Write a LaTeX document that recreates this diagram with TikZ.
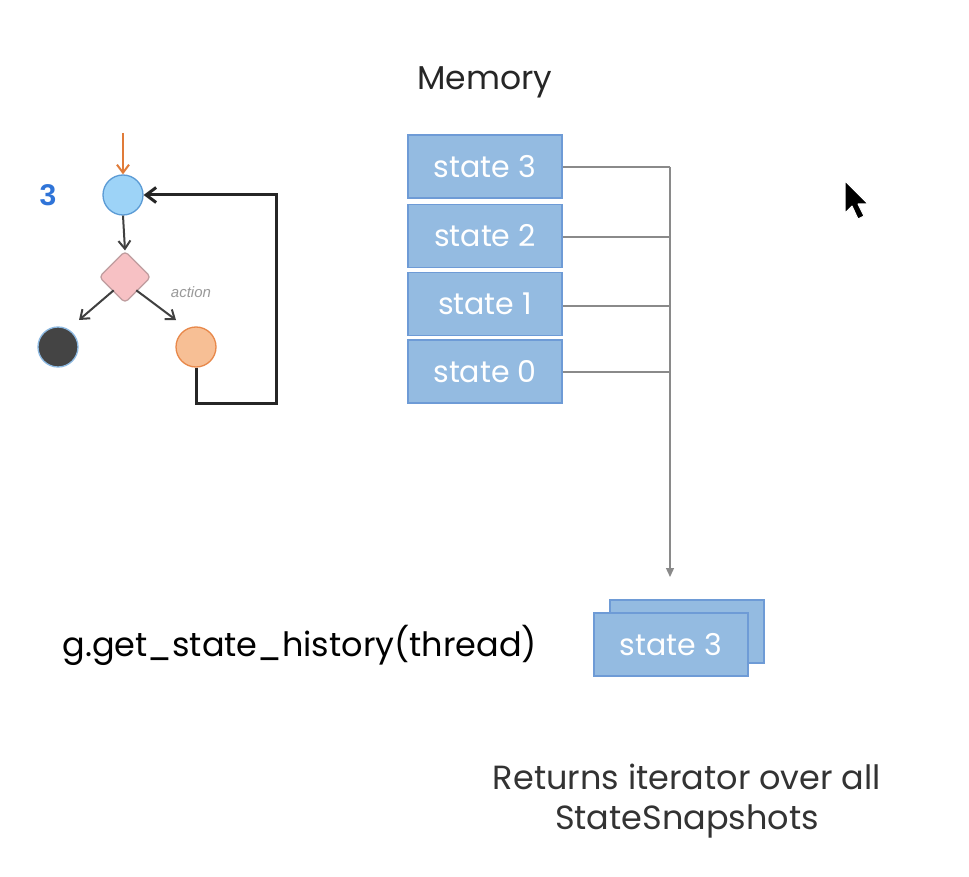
\documentclass[tikz,border=0pt]{standalone}
\usepackage{fontspec}
\setmainfont{Poppins}
\newfontfamily\arialfont{Liberation Sans}
\usetikzlibrary{shapes.geometric,arrows.meta}
\definecolor{boxfill}{HTML}{94BBE1}
\definecolor{boxdraw}{HTML}{6E9BD6}
\definecolor{linkgray}{HTML}{8A8A8A}
\definecolor{nodeblue}{HTML}{9DD3F7}
\definecolor{nodeblueline}{HTML}{5B9BD5}
\definecolor{diafill}{HTML}{F7C1C4}
\definecolor{diadraw}{HTML}{BE9C9E}
\definecolor{orfill}{HTML}{F7BF95}
\definecolor{ordraw}{HTML}{E8884A}
\definecolor{orarrow}{HTML}{E07B39}
\definecolor{numblue}{HTML}{2F74D8}
\definecolor{darkfill}{HTML}{444444}
\tikzset{
  statebox/.style={draw=boxdraw, fill=boxfill, line width=1.2pt, minimum width=154pt, minimum height=63pt, inner sep=0pt, text=white, font=\fontsize{30}{34}\selectfont},
  link/.style={draw=linkgray, line width=1.3pt},
  gnode/.style={circle, minimum size=40pt, inner sep=0pt, line width=1.3pt},
  garrow/.style={draw=black!75, line width=2pt, -{Straight Barb[length=8pt,width=12pt]}},
}
\begin{document}
\begin{tikzpicture}[x=1pt,y=-1pt]
\useasboundingbox (0,0) rectangle (969,877);
\fill[white] (0,0) rectangle (969,877);

% Memory
\node[font=\fontsize{33}{38}\selectfont, text=black!85] (mem) at (485,82) {Memory};
\node[statebox] (s3) at (485,166.5) {state 3};
\node[statebox] (s2) at (485,236) {state 2};
\node[statebox] (s1) at (485,304) {state 1};
\node[statebox] (s0) at (485,371.5) {state 0};

\coordinate (j3) at (670,167);
\coordinate (j2) at (670,237);
\coordinate (j1) at (670,306);
\coordinate (j0) at (670,372);
\coordinate (jend) at (670,577);
\draw[link] (s3.east |- j3) -- (j3);
\draw[link] (s2.east |- j2) -- (j2);
\draw[link] (s1.east |- j1) -- (j1);
\draw[link] (s0.east |- j0) -- (j0);
\draw[link, -{Triangle[length=9pt,width=8pt]}] (j3) -- (jend);

% result boxes
\node[statebox] (r3back) at (687,631.5) {};
\node[statebox] (r3) at (671,644.5) {state 3};

\node[font=\fontsize{33.5}{38}\selectfont, text=black, anchor=west] (call) at (59,645) {g.get\_state\_history(thread)};

\node[font=\fontsize{33.5}{40}\selectfont, text=black!80, align=center] (ret) at (687,801) {Returns iterator over all\\StateSnapshots};

% left graph
\node[font=\arialfont\bfseries\fontsize{30}{34}\selectfont, text=numblue] (num) at (48,195) {3};
\node[gnode, draw=nodeblueline, fill=nodeblue] (start) at (123,195) {};
\node[diamond, draw=diadraw, fill=diafill, line width=1.2pt, minimum size=52pt, inner sep=0pt, rounded corners=4pt] (dec) at (125,277) {};
\node[gnode, draw=nodeblueline!70, fill=darkfill] (endn) at (58,347) {};
\node[gnode, draw=ordraw, fill=orfill] (act) at (196,347) {};
\node[font=\arialfont\itshape\fontsize{15}{17}\selectfont, text=black!40] (actl) at (191,292) {action};

\coordinate (entry) at (123,133);
\draw[draw=orarrow, line width=2pt, -{Straight Barb[length=8pt,width=12pt]}] (entry) -- (start.north);
\draw[garrow] (start.south) -- (dec.north);
\coordinate (la) at (79,320);
\coordinate (ra) at (176,320);
\draw[garrow] (dec.south west) ++(2,0) -- (la);
\draw[garrow] (dec.south east) ++(-2,0) -- (ra);
\coordinate (lb) at (196,403);
\coordinate (lc) at (276,403);
\coordinate (ld) at (276,195);
\draw[draw=black!85, line width=3pt, line join=miter, -{Straight Barb[length=10pt,width=15pt]}] (act.south) -- (lb) -- (lc) -- (ld) -- (start.east);

% mouse cursor
\filldraw[fill=black, draw=white, line width=1pt, line join=round]
  (845,181) -- (845,213) -- (852,206) -- (858,219) -- (864,216) -- (858,204) -- (868,204) -- cycle;
\end{tikzpicture}
\end{document}
